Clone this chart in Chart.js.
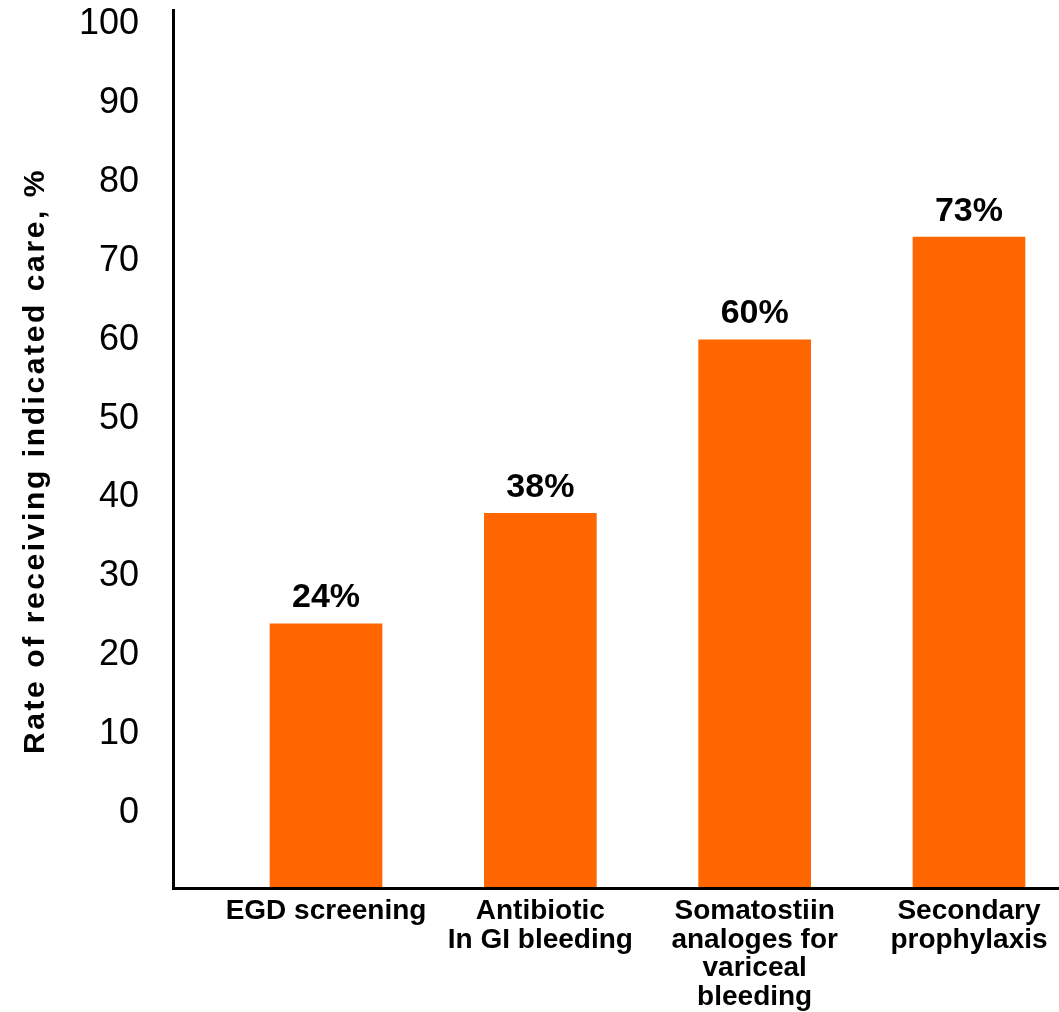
<!DOCTYPE html>
<html>
<head>
<meta charset="utf-8">
<style>
  html, body { margin: 0; padding: 0; background: #ffffff; }
  #wrap { width: 1059px; height: 1012px; }
</style>
<script src="https://cdn.jsdelivr.net/npm/chart.js@4/dist/chart.umd.min.js"></script>
</head>
<body>
<div id="wrap"><canvas id="chart" width="1059" height="1012"></canvas></div>
<script>
// Share of patients receiving each indicated care measure (%)
const categories = [
  ["EGD screening"],
  ["Antibiotic", "In GI bleeding"],
  ["Somatostiin", "analoges for", "variceal", "bleeding"],
  ["Secondary", "prophylaxis"]
];
const rates = [24, 38, 60, 73];
const yTicks = [0, 10, 20, 30, 40, 50, 60, 70, 80, 90, 100];
const yTitle = "Rate of receiving indicated care, %";

const FONT = "'Liberation Sans', Arial, Helvetica, sans-serif";
const BAR_COLOR = "#FF6600";

// Value labels above each bar
const valueLabels = {
  id: "valueLabels",
  afterDatasetsDraw(chart) {
    const ctx = chart.ctx;
    const meta = chart.getDatasetMeta(0);
    ctx.save();
    ctx.font = "bold 34px " + FONT;
    ctx.fillStyle = "#000000";
    ctx.textAlign = "center";
    ctx.textBaseline = "middle";
    meta.data.forEach((bar, i) => {
      ctx.fillText(rates[i] + "%", bar.x, bar.y - 26);
    });
    ctx.restore();
  }
};

// Axis title styling: wider letter spacing and a slight downward shift.
// Only the title layer is drawn between these two hooks.
const TITLE_SHIFT = 12;
const titleStyle = {
  id: "titleStyle",
  beforeDraw(chart) {
    chart.ctx.save();
    chart.ctx.letterSpacing = "2.6px";
    chart.ctx.translate(0, TITLE_SHIFT);
  },
  beforeDatasetsDraw(chart) {
    chart.ctx.restore();
    chart.ctx.letterSpacing = "0px";
  }
};

new Chart(document.getElementById("chart"), {
  type: "bar",
  data: {
    datasets: [{
      data: rates.map((v, i) => ({ x: i, y: v })),
      backgroundColor: BAR_COLOR,
      borderWidth: 0,
      barThickness: 112,
      base: -10
    }]
  },
  options: {
    responsive: false,
    animation: false,
    layout: { padding: { top: 10, right: 0, bottom: 0, left: 0 } },
    plugins: {
      legend: { display: false },
      tooltip: { enabled: false }
    },
    scales: {
      x: {
        type: "linear",
        offset: false,
        min: -0.714,
        max: 3.42,
        grid: { display: false, drawTicks: false, offset: false },
        border: { display: true, color: "#000000", width: 3, z: 1 },
        afterBuildTicks(scale) {
          scale.ticks = categories.map((_, i) => ({ value: i }));
        },
        afterFit(scale) {
          scale.height = 124;
          scale.paddingLeft = 0;
          scale.paddingRight = 0;
        },
        ticks: {
          z: 1,
          padding: 9,
          maxRotation: 0,
          autoSkip: false,
          color: "#000000",
          font: { family: FONT, size: 28, weight: "bold", lineHeight: 1.02 },
          callback: (v) => categories[v]
        }
      },
      y: {
        min: -9.5,
        max: 101.8,
        grid: { display: false, drawTicks: false },
        border: { display: true, color: "#000000", width: 3, z: 1 },
        afterBuildTicks(scale) {
          scale.ticks = yTicks.map(v => ({ value: v }));
        },
        afterFit(scale) {
          scale.width = 173;
          scale.paddingTop = 0;
          scale.paddingBottom = 0;
        },
        ticks: {
          z: 1,
          padding: 34,
          color: "#000000",
          font: { family: FONT, size: 36, lineHeight: 1.0 },
          callback: (v) => String(v)
        },
        title: {
          display: true,
          text: yTitle,
          color: "#000000",
          padding: { top: 18, bottom: 0 },
          font: { family: FONT, size: 30, weight: "bold", lineHeight: 1.2 }
        }
      }
    }
  },
  plugins: [valueLabels, titleStyle]
});
</script>
</body>
</html>
